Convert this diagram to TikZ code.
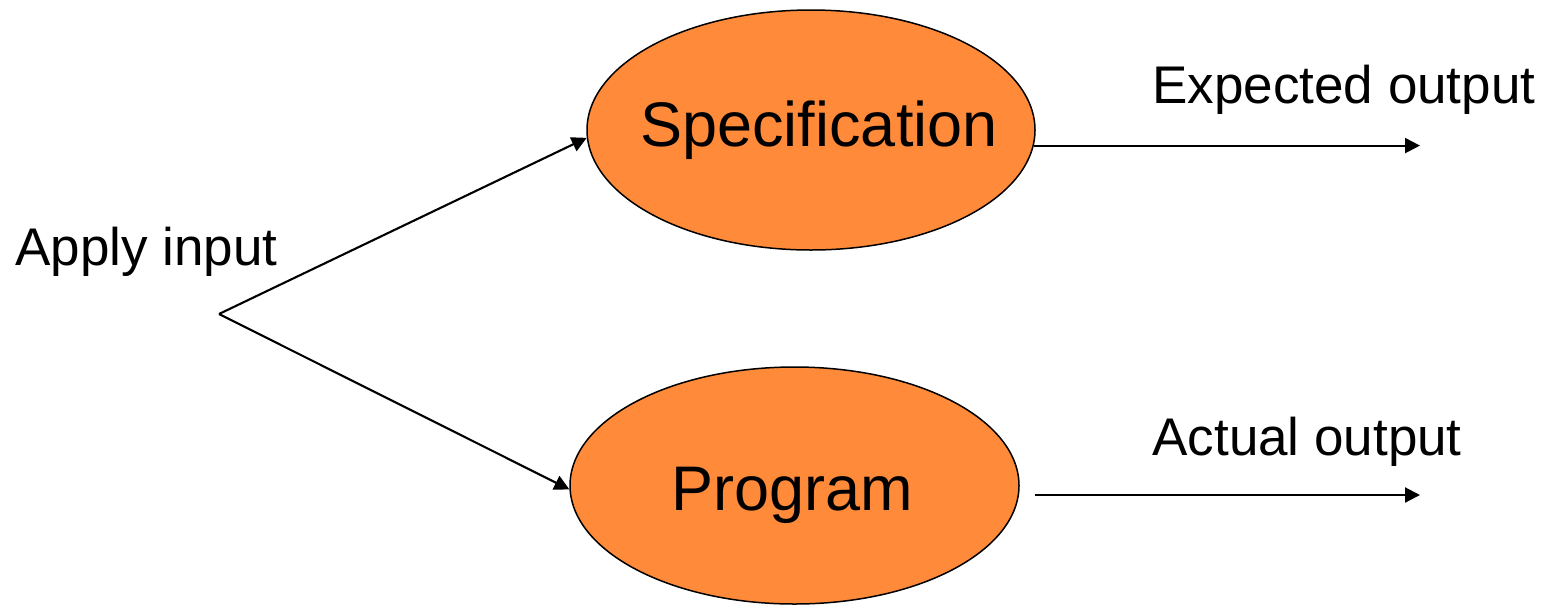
\documentclass[tikz,border=0pt]{standalone}
\usepackage{fontspec}
\setmainfont{Liberation Sans}
\usetikzlibrary{shapes.geometric,arrows.meta}
\definecolor{boxorange}{RGB}{255,138,58}
\tikzset{
  blob/.style={ellipse, draw=black, line width=0.75pt, fill=boxorange, inner sep=0pt},
  bigtext/.style={inner sep=0pt, font=\fontsize{31.5pt}{36pt}\selectfont},
  smalltext/.style={inner sep=0pt, anchor=base west, font=\fontsize{26.5pt}{30pt}\selectfont},
  flow/.style={line width=1.05pt, -{Triangle[length=7.5pt,width=7.5pt]}}
}
\begin{document}
\begin{tikzpicture}[x=0.5pt, y=-0.5pt]
  \path[use as bounding box] (0,0) rectangle (1551,606);

  % the two processes
  \node[blob, minimum width=224pt, minimum height=120pt] (spec) at (811,130) {};
  \node[blob, minimum width=224.5pt, minimum height=118.5pt] (prog) at (794.5,485.5) {};
  \node[bigtext] (spectext) at (819,130) {Specification};
  \node[bigtext] (progtext) at (792,495) {Program};

  % labels
  \node[smalltext] (applylbl) at (15,265) {Apply input};
  \node[smalltext] (explbl) at (1152,103) {Expected output};
  \node[smalltext] (actlbl) at (1152,455) {Actual output};

  % input fork
  \coordinate (apex) at (219,314);
  \draw[flow] (apex) -- (spec.182);
  \draw[flow] (apex) -- (prog.181);

  % outputs
  \coordinate (expEnd) at (1420,143);
  \draw[flow] (spec.-4) -- (spec.-4 -| expEnd);
  \coordinate (actStart) at (1035,495);
  \coordinate (actEnd) at (1420,495);
  \draw[flow] (actStart) -- (actEnd);
\end{tikzpicture}
\end{document}
